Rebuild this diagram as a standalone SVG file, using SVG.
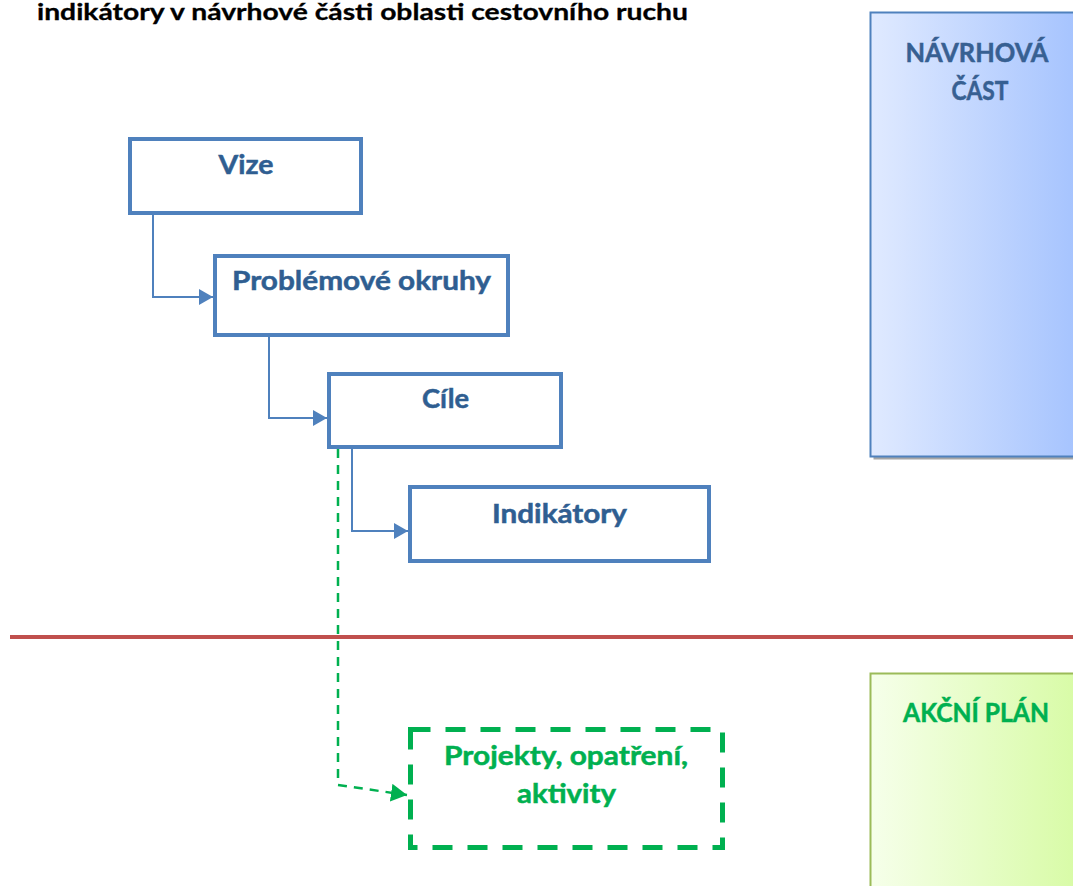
<svg xmlns="http://www.w3.org/2000/svg" width="1073" height="886" viewBox="0 0 1073 886">
<style>
text{font-family:Lato,"Liberation Sans",sans-serif;font-weight:bold}
.box{fill:#ffffff;stroke:#4F81BD;stroke-width:4}
.lbl{fill:#2F5E91;stroke:#2F5E91;stroke-width:0.5;font-size:27px;text-anchor:middle}
.green{fill:#00B050;stroke:#00B050;stroke-width:0.5;font-size:27px;text-anchor:middle}
.conn{fill:none;stroke:#4F81BD;stroke-width:2}
.gconn{fill:none;stroke:#00B050;stroke-width:2.5;stroke-dasharray:9 7}
</style>
<defs>
<linearGradient id="gBlue" x1="0" y1="0" x2="1" y2="0">
<stop offset="0" stop-color="#E0EAFF"/>
<stop offset="1" stop-color="#A2C1FE"/>
</linearGradient>
<linearGradient id="gGreen" x1="0" y1="0" x2="1" y2="0">
<stop offset="0" stop-color="#F6FFEA"/>
<stop offset="1" stop-color="#D6FBA2"/>
</linearGradient>
<marker id="aBlue" markerUnits="userSpaceOnUse" markerWidth="16" markerHeight="18" refX="14" refY="8" orient="auto">
<path d="M0,0 L14,8 L0,16 Z" fill="#4F81BD"/>
</marker>
<marker id="aGreen" markerUnits="userSpaceOnUse" markerWidth="18" markerHeight="20" refX="16" refY="9" orient="auto">
<path d="M0,0 L16,9 L0,18 Z" fill="#00B050"/>
</marker>
</defs>
<rect width="1073" height="886" fill="#ffffff"/>
<text x="37" y="20" font-size="22" fill="#000000" stroke="#000000" stroke-width="0.3" textLength="651" lengthAdjust="spacingAndGlyphs">indikátory v návrhové části oblasti cestovního ruchu</text>

<g id="navrhova-cast">
<rect x="873.5" y="15.5" width="220" height="444" fill="#A6A6A6"/>
<rect x="870.5" y="12.5" width="220" height="444" fill="url(#gBlue)" stroke="#4F81BD" stroke-width="2"/>
<text class="lbl" x="977" y="62" style="fill:#376092;stroke:#376092" textLength="143" lengthAdjust="spacingAndGlyphs">NÁVRHOVÁ</text>
<text class="lbl" x="980" y="100" style="fill:#376092;stroke:#376092" textLength="57" lengthAdjust="spacingAndGlyphs">ČÁST</text>
</g>

<g id="akcni-plan">
<rect x="870.5" y="673.5" width="220" height="230" fill="url(#gGreen)" stroke="#9BBB59" stroke-width="2"/>
<text class="green" x="976" y="722" textLength="146" lengthAdjust="spacingAndGlyphs">AKČNÍ PLÁN</text>
</g>

<line id="separator" x1="10" y1="637" x2="1073" y2="637" stroke="#C0504D" stroke-width="4"/>

<g id="connectors">
<path class="conn" d="M153,215 V297 H213" marker-end="url(#aBlue)"/>
<path class="conn" d="M269,337 V418 H327" marker-end="url(#aBlue)"/>
<path class="conn" d="M352,449 V531 H408" marker-end="url(#aBlue)"/>
<path class="gconn" d="M338,449 V785 L407,795" marker-end="url(#aGreen)"/>
</g>

<g id="vize">
<rect class="box" x="130" y="139" width="231" height="74"/>
<text class="lbl" x="246" y="174" textLength="55" lengthAdjust="spacingAndGlyphs">Vize</text>
</g>

<g id="problemove-okruhy">
<rect class="box" x="215" y="256" width="293" height="79"/>
<text class="lbl" x="361.5" y="290" textLength="259" lengthAdjust="spacingAndGlyphs">Problémové okruhy</text>
</g>

<g id="cile">
<rect class="box" x="329" y="374" width="232" height="73"/>
<text class="lbl" x="445.5" y="408" textLength="47" lengthAdjust="spacingAndGlyphs">Cíle</text>
</g>

<g id="indikatory">
<rect class="box" x="410" y="487" width="299" height="74"/>
<text class="lbl" x="559.5" y="523" textLength="135" lengthAdjust="spacingAndGlyphs">Indikátory</text>
</g>

<g id="projekty">
<rect x="410.5" y="729.5" width="312" height="118" fill="none" stroke="#00B050" stroke-width="5" stroke-dasharray="20 15"/>
<text class="green" x="566" y="765" textLength="244" lengthAdjust="spacingAndGlyphs">Projekty, opatření,</text>
<text class="green" x="566.5" y="803" textLength="99" lengthAdjust="spacingAndGlyphs">aktivity</text>
</g>
</svg>
